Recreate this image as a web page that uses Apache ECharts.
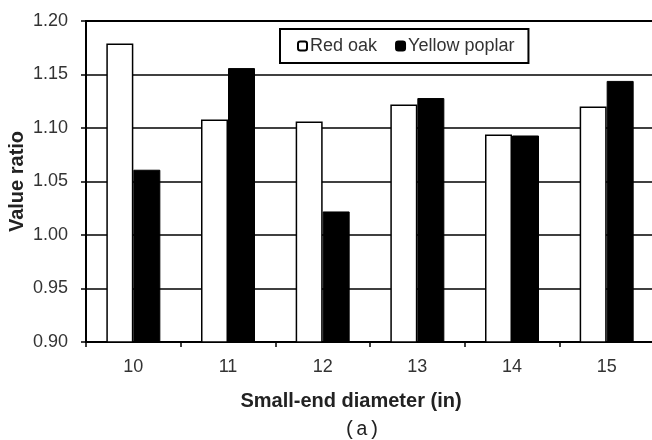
<!DOCTYPE html>
<html><head><meta charset="utf-8">
<script src="https://cdn.jsdelivr.net/npm/echarts@6/dist/echarts.min.js"></script>
<style>html,body{margin:0;padding:0;background:#fff}#c{width:652px;height:440px}</style>
</head><body><div id="c"></div>
<script>
const categories = ['10','11','12','13','14','15'];
const redOak = [1.179, 1.108, 1.106, 1.122, 1.094, 1.120];
const yellowPoplar = [1.061, 1.156, 1.022, 1.128, 1.093, 1.144];
const yMin = 0.90, yMax = 1.20, yStep = 0.05;

const F = '"Liberation Sans", Arial, sans-serif';
const chart = echarts.init(document.getElementById('c'));
chart.setOption({
  animation: false,
  backgroundColor: '#fff',
  grid: { left: 86, right: -2, top: 21, bottom: 98, containLabel: false, outerBoundsMode: 'none',
          show: true, borderColor: '#000', borderWidth: 2, backgroundColor: 'transparent' },
  legend: {
    left: 280, top: 29,
    orient: 'horizontal',
    padding: [8, 14, 8, 17],
    itemWidth: 9, itemHeight: 9, itemGap: 18,
    borderColor: '#000', borderWidth: 2,
    textStyle: { fontFamily: F, fontSize: 18, color: '#333', padding: [0, 0, 0, -2] },
    data: ['Red oak', 'Yellow poplar']
  },
  xAxis: {
    type: 'category', data: categories,
    axisLine: { lineStyle: { color: '#000', width: 2 } },
    axisTick: { show: true, length: 5, lineStyle: { color: '#000', width: 1.5 } },
    axisLabel: { fontFamily: F, fontSize: 18, color: '#333', margin: 16 }
  },
  yAxis: {
    type: 'value', min: yMin, max: yMax, interval: yStep,
    name: 'Value ratio', nameLocation: 'middle', nameGap: 59, nameMoveOverlap: false,
    nameTextStyle: { fontFamily: F, fontSize: 20, fontWeight: 'bold', color: '#222' },
    axisLine: { show: true, lineStyle: { color: '#000', width: 2 } },
    axisTick: { show: true, length: 5, lineStyle: { color: '#000', width: 1.5 } },
    axisLabel: { fontFamily: F, fontSize: 18, color: '#333', margin: 18, formatter: v => v.toFixed(2) },
    splitLine: { show: true, lineStyle: { color: '#000', width: 1.5 } }
  },
  graphic: [
    { type: 'text', x: 351, y: 401, style: { text: 'Small-end diameter (in)', font: 'bold 20px ' + F, fill: '#222', textAlign: 'center', textVerticalAlign: 'middle' } },
    { type: 'text', x: 362, y: 430, style: { text: '(a)', font: '20px "Liberation Mono", monospace', fill: '#222', textAlign: 'center', textVerticalAlign: 'middle' } }
  ],
  series: [
    { name: 'Red oak', type: 'bar', data: redOak, barWidth: 27, barGap: '0%',
      itemStyle: { color: '#fff', borderColor: '#000', borderWidth: 1.5 } },
    { name: 'Yellow poplar', type: 'bar', data: yellowPoplar, barWidth: 27,
      itemStyle: { color: '#000', borderColor: '#000', borderWidth: 1 } }
  ]
});
</script></body></html>
